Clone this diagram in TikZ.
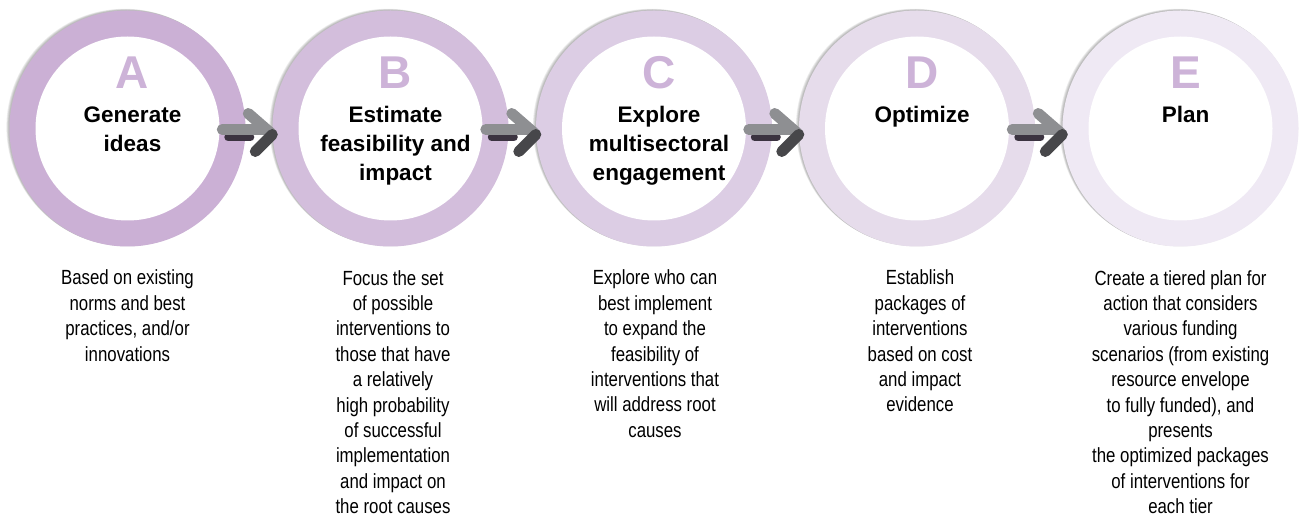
\documentclass[tikz,border=0pt]{standalone}
\usepackage{fontspec}
\setmainfont{Liberation Sans}
\newfontfamily\narrowfont[FakeStretch=0.82]{Liberation Sans}
\usetikzlibrary{calc}
\definecolor{ringA}{HTML}{CBB0D5}
\definecolor{ringB}{HTML}{D3BEDC}
\definecolor{ringC}{HTML}{DCCDE4}
\definecolor{ringD}{HTML}{E6DCEB}
\definecolor{ringE}{HTML}{EFE9F4}
\definecolor{lettercol}{HTML}{CDB3D8}
\definecolor{arrowlight}{HTML}{8E8F92}
\definecolor{arrowdark}{HTML}{47474A}
\definecolor{arrowshadow}{HTML}{3B3340}
\tikzset{
  ring/.style={circle, minimum size=236pt, inner sep=0pt, draw=none},
  hole/.style={circle, minimum size=184pt, inner sep=0pt, fill=white},
  letter/.style={anchor=base, inner sep=0pt, text=lettercol, font=\fontsize{46}{46}\selectfont\bfseries},
  title/.style={anchor=base, inner sep=0pt, align=center, font=\fontsize{22.5}{28.7}\selectfont\bfseries},
  desc/.style={anchor=base, inner sep=0pt, align=center, font=\narrowfont\fontsize{20.5}{25.4}\selectfont},
  arrlight/.style={draw=arrowlight, line width=11pt, line cap=round},
  arrdark/.style={draw=arrowdark, line width=11pt, line cap=round},
  arrshadow/.style={draw=arrowshadow, line width=8pt, line cap=round},
}
\newcommand{\ringshadow}[1]{%
  \foreach \k in {1,...,4}{
    \fill[black, opacity=0.07] ($(#1)+(-0.7*\k,-0.35*\k)$) circle (118.3);
  }%
}
\newcommand{\chevron}[2]{% #1 previous ring, #2 next ring
  \coordinate (#1#2tip) at ($(#2.west)+(0,5)$);
  \draw[arrshadow] ($(#1#2tip)+(-44,4)$) -- ($(#1#2tip)+(-22,4)$);
  \draw[arrlight] ($(#1#2tip)+(-50,-4)$) -- ($(#1#2tip)+(-6,-4)$);
  \draw[arrlight] ($(#1#2tip)+(-24,-20)$) -- ($(#1#2tip)+(-1,0)$);
  \draw[arrdark] ($(#1#2tip)+(0,1)$) -- ($(#1#2tip)+(-17,18)$);
}
\begin{document}
\begin{tikzpicture}[x=1pt, y=-1pt]
\useasboundingbox (0,0) rectangle (1304,518);
\fill[white] (0,0) rectangle (1304,518);

% ring centres
\coordinate (cA) at (127.5,128.5);
\coordinate (cB) at (390.5,128.5);
\coordinate (cC) at (654,128.5);
\coordinate (cD) at (917,128.5);
\coordinate (cE) at (1180.5,128.5);
\ringshadow{cA}
\ringshadow{cB}
\ringshadow{cC}
\ringshadow{cD}
\ringshadow{cE}

% rings
\node[ring, fill=ringA] (A) at (cA) {};
\node[ring, fill=ringB] (B) at (cB) {};
\node[ring, fill=ringC] (C) at (cC) {};
\node[ring, fill=ringD] (D) at (cD) {};
\node[ring, fill=ringE] (E) at (cE) {};
\node[hole] (hA) at (cA) {};
\node[hole] (hB) at (cB) {};
\node[hole] (hC) at (cC) {};
\node[hole] (hD) at (cD) {};
\node[hole] (hE) at (cE) {};

% letters
\node[letter] (lA) at ($(cA)+(5,-40)$) {A};
\node[letter] (lB) at ($(cB)+(5,-40)$) {B};
\node[letter] (lC) at ($(cC)+(5,-40)$) {C};
\node[letter] (lD) at ($(cD)+(5,-40)$) {D};
\node[letter] (lE) at ($(cE)+(5,-40)$) {E};

% titles (base anchor = baseline of last line; first baseline at y=123)
\node[title] (tA) at ($(cA)+(5,23.2)$) {Generate\\ideas};
\node[title] (tB) at ($(cB)+(5,51.9)$) {Estimate\\feasibility and\\impact};
\node[title] (tC) at ($(cC)+(5,51.9)$) {Explore\\multisectoral\\engagement};
\node[title] (tD) at ($(cD)+(5,-5.5)$) {Optimize};
\node[title] (tE) at ($(cE)+(5,-5.5)$) {Plan};

% arrows
\chevron{A}{B}
\chevron{B}{C}
\chevron{C}{D}
\chevron{D}{E}

% descriptions (first baseline at y=285, spacing 25.4)
\node[desc] (dA) at (127.5,361.2) {Based on existing\\norms and best\\practices, and/or\\innovations};
\node[desc] (dB) at (393,513.6) {Focus the set\\of possible\\interventions to\\those that have\\a relatively\\high probability\\of successful\\implementation\\and impact on\\the root causes};
\node[desc] (dC) at (655,437.4) {Explore who can\\best implement\\to expand the\\feasibility of\\interventions that\\will address root\\causes};
\node[desc] (dD) at (920,412) {Establish\\packages of\\interventions\\based on cost\\and impact\\evidence};
\node[desc] (dE) at (1180.5,513.6) {Create a tiered plan for\\action that considers\\various funding\\scenarios (from existing\\resource envelope\\to fully funded), and\\presents\\the optimized packages\\of interventions for\\each tier};
\end{tikzpicture}
\end{document}
